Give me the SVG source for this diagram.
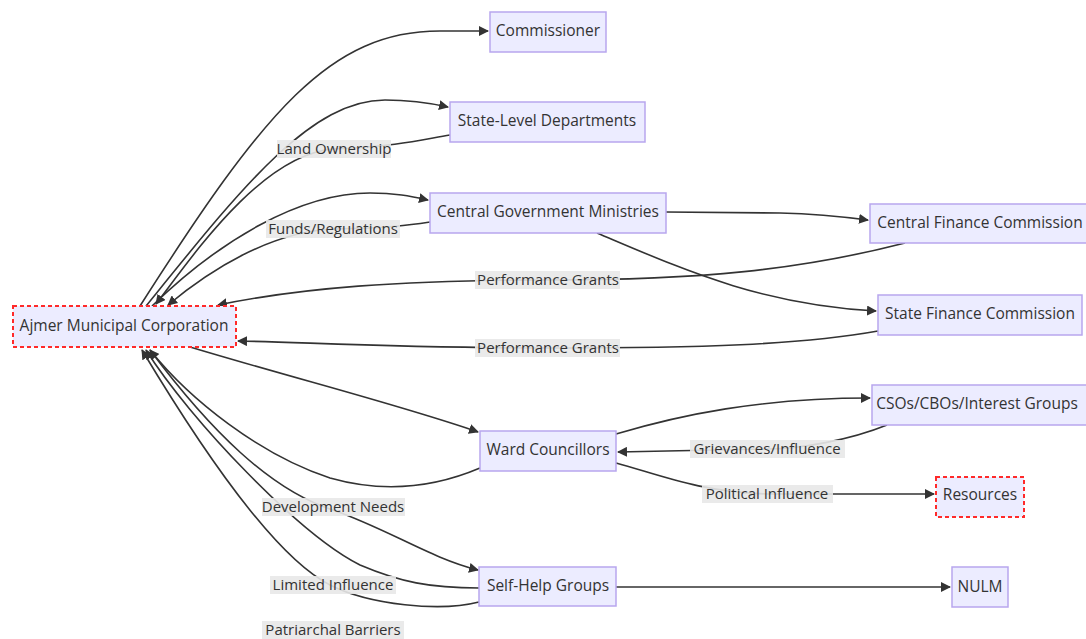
<svg xmlns="http://www.w3.org/2000/svg" width="1086" height="639" viewBox="0 0 1086 639">
<defs>
<marker id="arr" viewBox="0 0 10 10" refX="9" refY="5" markerWidth="10" markerHeight="10" markerUnits="userSpaceOnUse" orient="auto">
<path d="M0,0 L10,5 L0,10 z" fill="#333"/>
</marker>
<style>
.node rect{fill:#ECECFF;stroke:#b8a6ee;stroke-width:1.5}
.node.hl rect{stroke:#ff2a2a;stroke-width:2;stroke-dasharray:4 3}
.node text{font-family:"Open Sans","DejaVu Sans",sans-serif;font-size:15.5px;fill:#333;text-anchor:middle;dominant-baseline:central}
.edges path{fill:none;stroke:#333;stroke-width:1.6;marker-end:url(#arr)}
.lbl rect{fill:#e8e8e8;opacity:0.9}
.lbl text{font-family:"Open Sans","DejaVu Sans",sans-serif;font-size:15px;fill:#333;text-anchor:middle;dominant-baseline:central}
</style>
</defs>
<rect width="1086" height="639" fill="#fff"/>
<g class="edges" id="connectors">
<path d="M140,306 C265,110 330,31 440,31 L488,31"/>
<path d="M146,306 C240,190 310,100 385,100 C410,100 430,103 448,107"/>
<path d="M450,135 C420,140 400,146 333,149 C260,155 190,260 156,304"/>
<path d="M152,306 C220,240 300,193 370,193 C395,193 410,196 428,200"/>
<path d="M430,222 C410,225 390,228 333,229 C270,232 210,270 168,305"/>
<path d="M666,212 L780,213 C820,214 845,217 868,220"/>
<path d="M597,233 C680,268 760,305 876,311"/>
<path d="M905,243 C800,270 700,280 548,280 C400,280 300,288 218,305"/>
<path d="M878,331 C800,345 700,348 548,348 C400,348 300,342 238,341"/>
<path d="M190,347 C300,380 400,405 478,432"/>
<path d="M480,468 C440,485 390,495 330,478 C260,455 190,400 150,350"/>
<path d="M150,350 C210,430 270,490 333,510 C390,530 430,558 478,570"/>
<path d="M479,588 C430,588 400,582 360,565 C300,535 190,420 146,350"/>
<path d="M479,602 C440,612 370,605 330,585 C270,555 190,430 142,350"/>
<path d="M616,434 C680,415 760,398 870,398"/>
<path d="M887,425 C850,440 800,449 767,449 L618,452"/>
<path d="M616,463 C660,475 700,492 767,494 L934,494"/>
<path d="M616,587 L950,587"/>
</g>
<g class="lbl" id="labels">
<g><rect x="277" y="140" width="114" height="18"/><text x="334" y="148">Land Ownership</text></g>
<g><rect x="266" y="220" width="134" height="18"/><text x="333" y="228">Funds/Regulations</text></g>
<g><rect x="475" y="271" width="145" height="18"/><text x="548" y="279">Performance Grants</text></g>
<g><rect x="475" y="339" width="145" height="18"/><text x="548" y="347">Performance Grants</text></g>
<g><rect x="690" y="440" width="155" height="18"/><text x="767" y="448">Grievances/Influence</text></g>
<g><rect x="702" y="485" width="131" height="18"/><text x="767" y="493">Political Influence</text></g>
<g><rect x="262" y="498" width="143" height="18"/><text x="333" y="506">Development Needs</text></g>
<g><rect x="270" y="576" width="126" height="18"/><text x="333" y="584">Limited Influence</text></g>
<g><rect x="262" y="621" width="142" height="18"/><text x="333" y="629">Patriarchal Barriers</text></g>
</g>
<g class="node" id="commissioner"><rect x="490" y="12" width="116" height="40"/><text x="548" y="30">Commissioner</text></g>
<g class="node" id="state-level-departments"><rect x="450" y="102" width="195" height="40"/><text x="547" y="120">State-Level Departments</text></g>
<g class="node" id="central-government-ministries"><rect x="430" y="193" width="236" height="40"/><text x="548" y="211">Central Government Ministries</text></g>
<g class="node" id="central-finance-commission"><rect x="870" y="204" width="217" height="39"/><text x="980" y="222">Central Finance Commission</text></g>
<g class="node" id="state-finance-commission"><rect x="878" y="295" width="204" height="40"/><text x="980" y="313">State Finance Commission</text></g>
<g class="node hl" id="ajmer-municipal-corporation"><rect x="13" y="306" width="223" height="41"/><text x="124" y="325">Ajmer Municipal Corporation</text></g>
<g class="node" id="ward-councillors"><rect x="480" y="431" width="136" height="40"/><text x="548" y="449">Ward Councillors</text></g>
<g class="node" id="csos-cbos-interest-groups"><rect x="872" y="385" width="215" height="40"/><text x="977" y="403">CSOs/CBOs/Interest Groups</text></g>
<g class="node hl" id="resources"><rect x="936" y="477" width="88" height="40"/><text x="980" y="494">Resources</text></g>
<g class="node" id="self-help-groups"><rect x="479" y="567" width="137" height="39"/><text x="548" y="585">Self-Help Groups</text></g>
<g class="node" id="nulm"><rect x="952" y="567" width="56" height="40"/><text x="980" y="586">NULM</text></g>
</svg>
